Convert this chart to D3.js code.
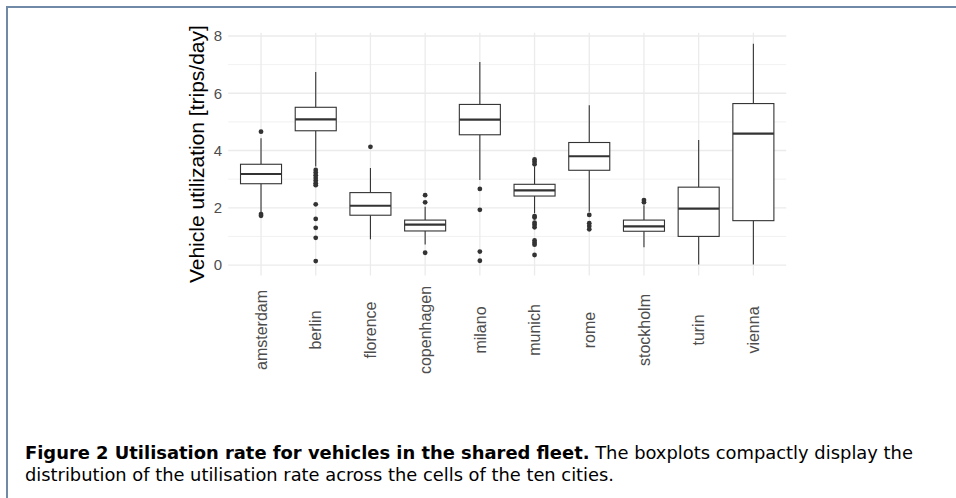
<!DOCTYPE html>
<meta charset="utf-8">
<script src="https://d3js.org/d3.v7.min.js"></script>
<style>
body { margin: 0; background: #fff; }
svg { display: block; }
.tick-y, .tick-x { fill: #4d4d4d; font-family: "Liberation Sans", Arial, sans-serif; }
.caption { font-family: "Liberation Sans Narrow", "DejaVu Sans Condensed", sans-serif; font-size: 17px; fill: #000; }
</style>
<body>
<svg id="chart" width="956" height="498"></svg>
</body>
<script>
  // utilisation per city
  var cities = ["amsterdam", "berlin", "florence", "copenhagen", "milano",
                "munich", "rome", "stockholm", "turin", "vienna"];
  var whiskerLow  = [1.81, 3.44, 0.90, 0.72, 2.97, 1.81, 1.86, 0.62, 0.02, 0.02];
  var q1          = [2.84, 4.69, 1.74, 1.19, 4.55, 2.41, 3.31, 1.18, 1.00, 1.55];
  var medians     = [3.18, 5.09, 2.07, 1.41, 5.08, 2.61, 3.80, 1.35, 1.97, 4.59];
  var q3          = [3.52, 5.51, 2.53, 1.57, 5.61, 2.82, 4.28, 1.57, 2.72, 5.64];
  var whiskerHigh = [4.43, 6.74, 3.39, 2.04, 7.09, 3.44, 5.58, 2.09, 4.37, 7.73];
  var outliers = [
    [4.66, 1.78, 1.72],
    [3.32, 3.23, 3.14, 3.04, 2.95, 2.86, 2.79, 2.12, 1.61, 1.30, 0.95, 0.14],
    [4.13],
    [2.44, 2.19, 0.43],
    [2.66, 1.93, 0.47, 0.15],
    [3.69, 3.61, 3.52, 1.71, 1.66, 1.48, 1.41, 1.32, 0.86, 0.78, 0.71, 0.35],
    [1.75, 1.46, 1.36, 1.25],
    [2.27, 2.19],
    [],
    []
  ];
  var yMajor = [0, 2, 4, 6, 8];
  var yMinor = [1, 3, 5, 7];
  var yTitle = "Vehicle utilization [trips/day]";
  var captionBold = "Figure 2 Utilisation rate for vehicles in the shared fleet.";
  var captionRest = " The boxplots compactly display the";
  var captionLine2 = "distribution of the utilisation rate across the cells of the ten cities.";

  var boxes = cities.map(function(c, i) {
    return { city: c, lo: whiskerLow[i], q1: q1[i], med: medians[i], q3: q3[i],
             hi: whiskerHigh[i], out: outliers[i] };
  });

  var panel = {left: 228.2, right: 786.2, top: 32.7, bottom: 275.5};

  var svg = d3.select("#chart");

  svg.append("rect").attr("width", 956).attr("height", 498).attr("fill", "#fff");

  // frame of the figure box
  svg.append("path")
      .attr("d", "M7,498 V7 H956")
      .attr("fill", "none")
      .attr("stroke", "#6f89a6")
      .attr("stroke-width", 2);

  // y extent with ggplot's 5% expansion
  var allVals = d3.merge([whiskerLow, whiskerHigh, d3.merge(outliers)]);
  var ext = d3.extent(allVals);
  var pad = (ext[1] - ext[0]) * 0.05;

  var y = d3.scaleLinear()
      .domain([ext[0] - pad, ext[1] + pad])
      .range([panel.bottom, panel.top]);

  var x = d3.scalePoint()
      .domain(cities)
      .range([panel.left, panel.right])
      .padding(0.6);

  var boxW = x.step() * 0.75;

  // grid
  var grid = svg.append("g");
  grid.selectAll(".minor")
      .data(yMinor)
    .enter().append("line")
      .attr("x1", panel.left).attr("x2", panel.right)
      .attr("y1", function(d) { return y(d); })
      .attr("y2", function(d) { return y(d); })
      .attr("stroke", "#ebebeb")
      .attr("stroke-width", 0.7);
  grid.selectAll(".major")
      .data(yMajor)
    .enter().append("line")
      .attr("x1", panel.left).attr("x2", panel.right)
      .attr("y1", function(d) { return y(d); })
      .attr("y2", function(d) { return y(d); })
      .attr("stroke", "#ebebeb")
      .attr("stroke-width", 1.3);
  grid.selectAll(".vgrid")
      .data(cities)
    .enter().append("line")
      .attr("x1", function(d) { return x(d); })
      .attr("x2", function(d) { return x(d); })
      .attr("y1", panel.top).attr("y2", panel.bottom)
      .attr("stroke", "#ebebeb")
      .attr("stroke-width", 1.3);

  // boxplots
  var g = svg.selectAll(".box")
      .data(boxes)
    .enter().append("g")
      .attr("class", "box")
      .attr("transform", function(d) { return "translate(" + x(d.city) + ",0)"; });

  g.append("line")
      .attr("y1", function(d) { return y(d.hi); })
      .attr("y2", function(d) { return y(d.q3); })
      .attr("stroke", "#333").attr("stroke-width", 1.1);
  g.append("line")
      .attr("y1", function(d) { return y(d.q1); })
      .attr("y2", function(d) { return y(d.lo); })
      .attr("stroke", "#333").attr("stroke-width", 1.1);
  g.append("rect")
      .attr("x", -boxW / 2)
      .attr("width", boxW)
      .attr("y", function(d) { return y(d.q3); })
      .attr("height", function(d) { return y(d.q1) - y(d.q3); })
      .attr("fill", "#fff")
      .attr("stroke", "#333").attr("stroke-width", 1.1);
  g.append("line")
      .attr("x1", -boxW / 2).attr("x2", boxW / 2)
      .attr("y1", function(d) { return y(d.med); })
      .attr("y2", function(d) { return y(d.med); })
      .attr("stroke", "#333").attr("stroke-width", 2.2);
  g.selectAll("circle")
      .data(function(d) { return d.out; })
    .enter().append("circle")
      .attr("r", 2.4)
      .attr("cy", function(d) { return y(d); })
      .attr("fill", "#333");

  // y tick labels
  svg.selectAll(".tick-y")
      .data(yMajor)
    .enter().append("text")
      .attr("class", "tick-y")
      .attr("x", panel.left - 6)
      .attr("y", function(d) { return y(d); })
      .attr("dy", "0.36em")
      .attr("text-anchor", "end")
      .style("font-size", "15px")
      .text(function(d) { return d; });

  // x tick labels, vertical and centred
  svg.selectAll(".tick-x")
      .data(cities)
    .enter().append("text")
      .attr("class", "tick-x")
      .attr("transform", function(d) { return "translate(" + x(d) + ",330) rotate(-90)"; })
      .attr("dy", "0.36em")
      .attr("text-anchor", "middle")
      .style("font-size", "16px")
      .text(function(d) { return d; });

  // y axis title
  svg.append("text")
      .attr("transform", "translate(204," + (panel.top + panel.bottom) / 2 + ") rotate(-90)")
      .attr("text-anchor", "middle")
      .style("font-family", "'Liberation Sans', Arial, sans-serif")
      .style("font-size", "21px")
      .attr("fill", "#000")
      .text(yTitle);

  // caption
  var cap1 = svg.append("text")
      .attr("class", "caption")
      .attr("x", 25).attr("y", 459)
      .attr("textLength", 888)
      .attr("lengthAdjust", "spacingAndGlyphs");
  cap1.append("tspan").style("font-weight", "bold").text(captionBold);
  cap1.append("tspan").text(captionRest);

  svg.append("text")
      .attr("class", "caption")
      .attr("x", 25).attr("y", 481)
      .attr("textLength", 589)
      .attr("lengthAdjust", "spacingAndGlyphs")
      .text(captionLine2);
</script>
